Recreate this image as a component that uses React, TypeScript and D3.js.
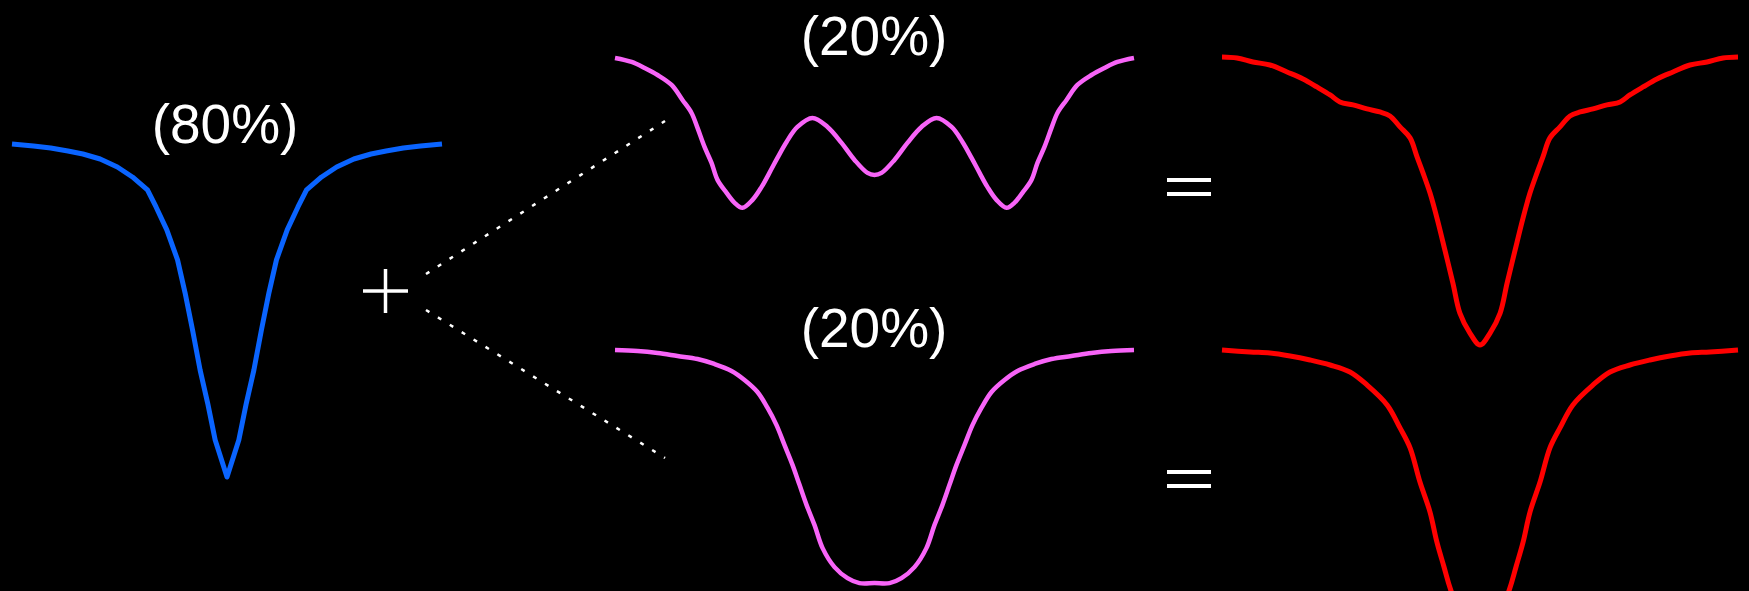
import React from "react";
import * as d3 from "d3";

// Velocity offsets (panel units, -1..1) and normalised flux (1 = continuum)
const blueV = [-1, -0.9, -0.82, -0.74, -0.67, -0.59, -0.51, -0.44, -0.37, -0.33, -0.28, -0.23, -0.195, -0.16, -0.125, -0.09, -0.055, 0, 0.055, 0.09, 0.125, 0.16, 0.195, 0.23, 0.28, 0.33, 0.37, 0.44, 0.51, 0.59, 0.67, 0.74, 0.82, 0.9, 1];
const blueF = [1, 0.994, 0.988, 0.979, 0.97, 0.955, 0.931, 0.901, 0.862, 0.811, 0.742, 0.652, 0.553, 0.441, 0.321, 0.222, 0.111, 0, 0.111, 0.222, 0.321, 0.441, 0.553, 0.652, 0.742, 0.811, 0.862, 0.901, 0.931, 0.955, 0.97, 0.979, 0.988, 0.994, 1];

const pinkTopV = [-1, -0.936, -0.886, -0.836, -0.782, -0.74, -0.705, -0.682, -0.655, -0.628, -0.605, -0.57, -0.539, -0.509, -0.47, -0.435, -0.405, -0.374, -0.339, -0.297, -0.239, -0.181, -0.127, -0.077, -0.027, 0, 0.027, 0.077, 0.127, 0.181, 0.239, 0.297, 0.339, 0.374, 0.405, 0.435, 0.47, 0.509, 0.539, 0.57, 0.605, 0.628, 0.655, 0.682, 0.705, 0.74, 0.782, 0.836, 0.886, 0.936, 1];
const pinkTopF = [1, 0.988, 0.97, 0.949, 0.919, 0.874, 0.835, 0.79, 0.733, 0.685, 0.634, 0.595, 0.565, 0.55, 0.574, 0.613, 0.655, 0.7, 0.748, 0.793, 0.82, 0.793, 0.745, 0.694, 0.655, 0.649, 0.655, 0.694, 0.745, 0.793, 0.82, 0.793, 0.748, 0.7, 0.655, 0.613, 0.574, 0.55, 0.565, 0.595, 0.634, 0.685, 0.733, 0.79, 0.835, 0.874, 0.919, 0.949, 0.97, 0.988, 1];

const pinkBotV = [-1, -0.913, -0.836, -0.759, -0.682, -0.617, -0.551, -0.501, -0.451, -0.412, -0.378, -0.347, -0.316, -0.289, -0.262, -0.231, -0.2, -0.154, -0.104, -0.058, 0, 0.058, 0.104, 0.154, 0.2, 0.231, 0.262, 0.289, 0.316, 0.347, 0.378, 0.412, 0.451, 0.501, 0.551, 0.617, 0.682, 0.759, 0.836, 0.913, 1];
const pinkBotF = [1, 0.997, 0.991, 0.982, 0.973, 0.958, 0.937, 0.91, 0.874, 0.826, 0.775, 0.715, 0.655, 0.595, 0.535, 0.474, 0.405, 0.348, 0.315, 0.3, 0.3, 0.3, 0.315, 0.348, 0.405, 0.474, 0.535, 0.595, 0.655, 0.715, 0.775, 0.826, 0.874, 0.91, 0.937, 0.958, 0.973, 0.982, 0.991, 0.997, 1];

const redTopV = [-1, -0.942, -0.88, -0.814, -0.748, -0.686, -0.632, -0.581, -0.543, -0.492, -0.438, -0.388, -0.349, -0.31, -0.271, -0.244, -0.221, -0.194, -0.167, -0.136, -0.105, -0.078, -0.039, 0, 0.039, 0.078, 0.105, 0.136, 0.167, 0.194, 0.221, 0.244, 0.271, 0.31, 0.349, 0.388, 0.438, 0.492, 0.543, 0.581, 0.632, 0.686, 0.748, 0.814, 0.88, 0.942, 1];
const redTopF = [1, 0.997, 0.985, 0.976, 0.955, 0.934, 0.91, 0.886, 0.865, 0.856, 0.844, 0.835, 0.823, 0.79, 0.757, 0.7, 0.652, 0.592, 0.517, 0.42, 0.321, 0.231, 0.171, 0.135, 0.171, 0.231, 0.321, 0.42, 0.517, 0.592, 0.652, 0.7, 0.757, 0.79, 0.823, 0.835, 0.844, 0.856, 0.865, 0.886, 0.91, 0.934, 0.955, 0.976, 0.985, 0.997, 1];

const redBotV = [-1, -0.891, -0.814, -0.736, -0.659, -0.581, -0.504, -0.438, -0.36, -0.31, -0.271, -0.233, -0.194, -0.167, -0.14, -0.112, 0, 0.112, 0.14, 0.167, 0.194, 0.233, 0.271, 0.31, 0.36, 0.438, 0.504, 0.581, 0.659, 0.736, 0.814, 0.891, 1];
const redBotF = [1, 0.994, 0.991, 0.982, 0.97, 0.955, 0.934, 0.895, 0.835, 0.766, 0.706, 0.604, 0.514, 0.423, 0.35, 0.276, 0.06, 0.276, 0.35, 0.423, 0.514, 0.604, 0.706, 0.766, 0.835, 0.895, 0.934, 0.955, 0.97, 0.982, 0.991, 0.994, 1];

const labels = ["(80%)", "(20%)", "(20%)"];

const W = 1749;
const H = 591;
const DEPTH = 333; // pixels per unit of flux

type Panel = { v: number[]; f: number[]; x0: number; x1: number; cont: number; color: string; width: number; smooth: boolean };

const panels: Panel[] = [
  { v: blueV, f: blueF, x0: 12, x1: 442, cont: 144, color: "#0a64ff", width: 5, smooth: false },
  { v: pinkTopV, f: pinkTopF, x0: 615, x1: 1134, cont: 58, color: "#f864f8", width: 4.5, smooth: true },
  { v: pinkBotV, f: pinkBotF, x0: 615, x1: 1134, cont: 350, color: "#f864f8", width: 4.5, smooth: true },
  { v: redTopV, f: redTopF, x0: 1222, x1: 1738, cont: 57, color: "#ff0000", width: 5, smooth: true },
  { v: redBotV, f: redBotF, x0: 1222, x1: 1738, cont: 350, color: "#ff0000", width: 5, smooth: true },
];

function pathFor(p: Panel): string {
  const x = d3.scaleLinear().domain([-1, 1]).range([p.x0, p.x1]);
  const y = d3.scaleLinear().domain([1, 0]).range([p.cont, p.cont + DEPTH]);
  const pts: [number, number][] = p.v.map((v, i) => [v, p.f[i]]);
  const line = d3
    .line<[number, number]>()
    .x((d) => x(d[0]))
    .y((d) => y(d[1]))
    .curve(p.smooth ? d3.curveCatmullRom.alpha(0.5) : d3.curveLinear);
  return line(pts) || "";
}

export default function App() {
  const font = "'Liberation Sans', Arial, Helvetica, sans-serif";
  return (
    <svg
      width={W}
      height={H}
      viewBox={`0 0 ${W} ${H}`}
      style={{ position: "absolute", left: 0, top: 0, background: "#000", display: "block" }}
    >
      <rect x={0} y={0} width={W} height={H} fill="#000" />
      <defs>
        <clipPath id="clip">
          <rect x={0} y={0} width={W} height={H} />
        </clipPath>
      </defs>
      <g clipPath="url(#clip)">
        {panels.map((p, i) => (
          <path
            key={i}
            d={pathFor(p)}
            fill="none"
            stroke={p.color}
            strokeWidth={p.width}
            strokeLinejoin="round"
            strokeLinecap="butt"
          />
        ))}
      </g>

      {/* labels */}
      <text x={225} y={143} fill="#fff" fontFamily={font} fontSize={55} textAnchor="middle">{labels[0]}</text>
      <text x={874} y={55} fill="#fff" fontFamily={font} fontSize={55} textAnchor="middle">{labels[1]}</text>
      <text x={874} y={347} fill="#fff" fontFamily={font} fontSize={55} textAnchor="middle">{labels[2]}</text>

      {/* plus sign */}
      <g stroke="#fff" strokeWidth={3.5}>
        <line x1={363} y1={291} x2={408} y2={291} />
        <line x1={385.5} y1={269} x2={385.5} y2={313} />
      </g>

      {/* dotted connectors */}
      <g stroke="#fff" strokeWidth={2.5} strokeDasharray="4 10">
        <line x1={426} y1={274} x2={665} y2={121} />
        <line x1={426} y1={310} x2={665} y2={458} />
      </g>

      {/* equals signs */}
      <g stroke="#fff" strokeWidth={4}>
        <line x1={1167} y1={180} x2={1211} y2={180} />
        <line x1={1167} y1={194} x2={1211} y2={194} />
        <line x1={1167} y1={472} x2={1211} y2={472} />
        <line x1={1167} y1={486} x2={1211} y2={486} />
      </g>
    </svg>
  );
}
